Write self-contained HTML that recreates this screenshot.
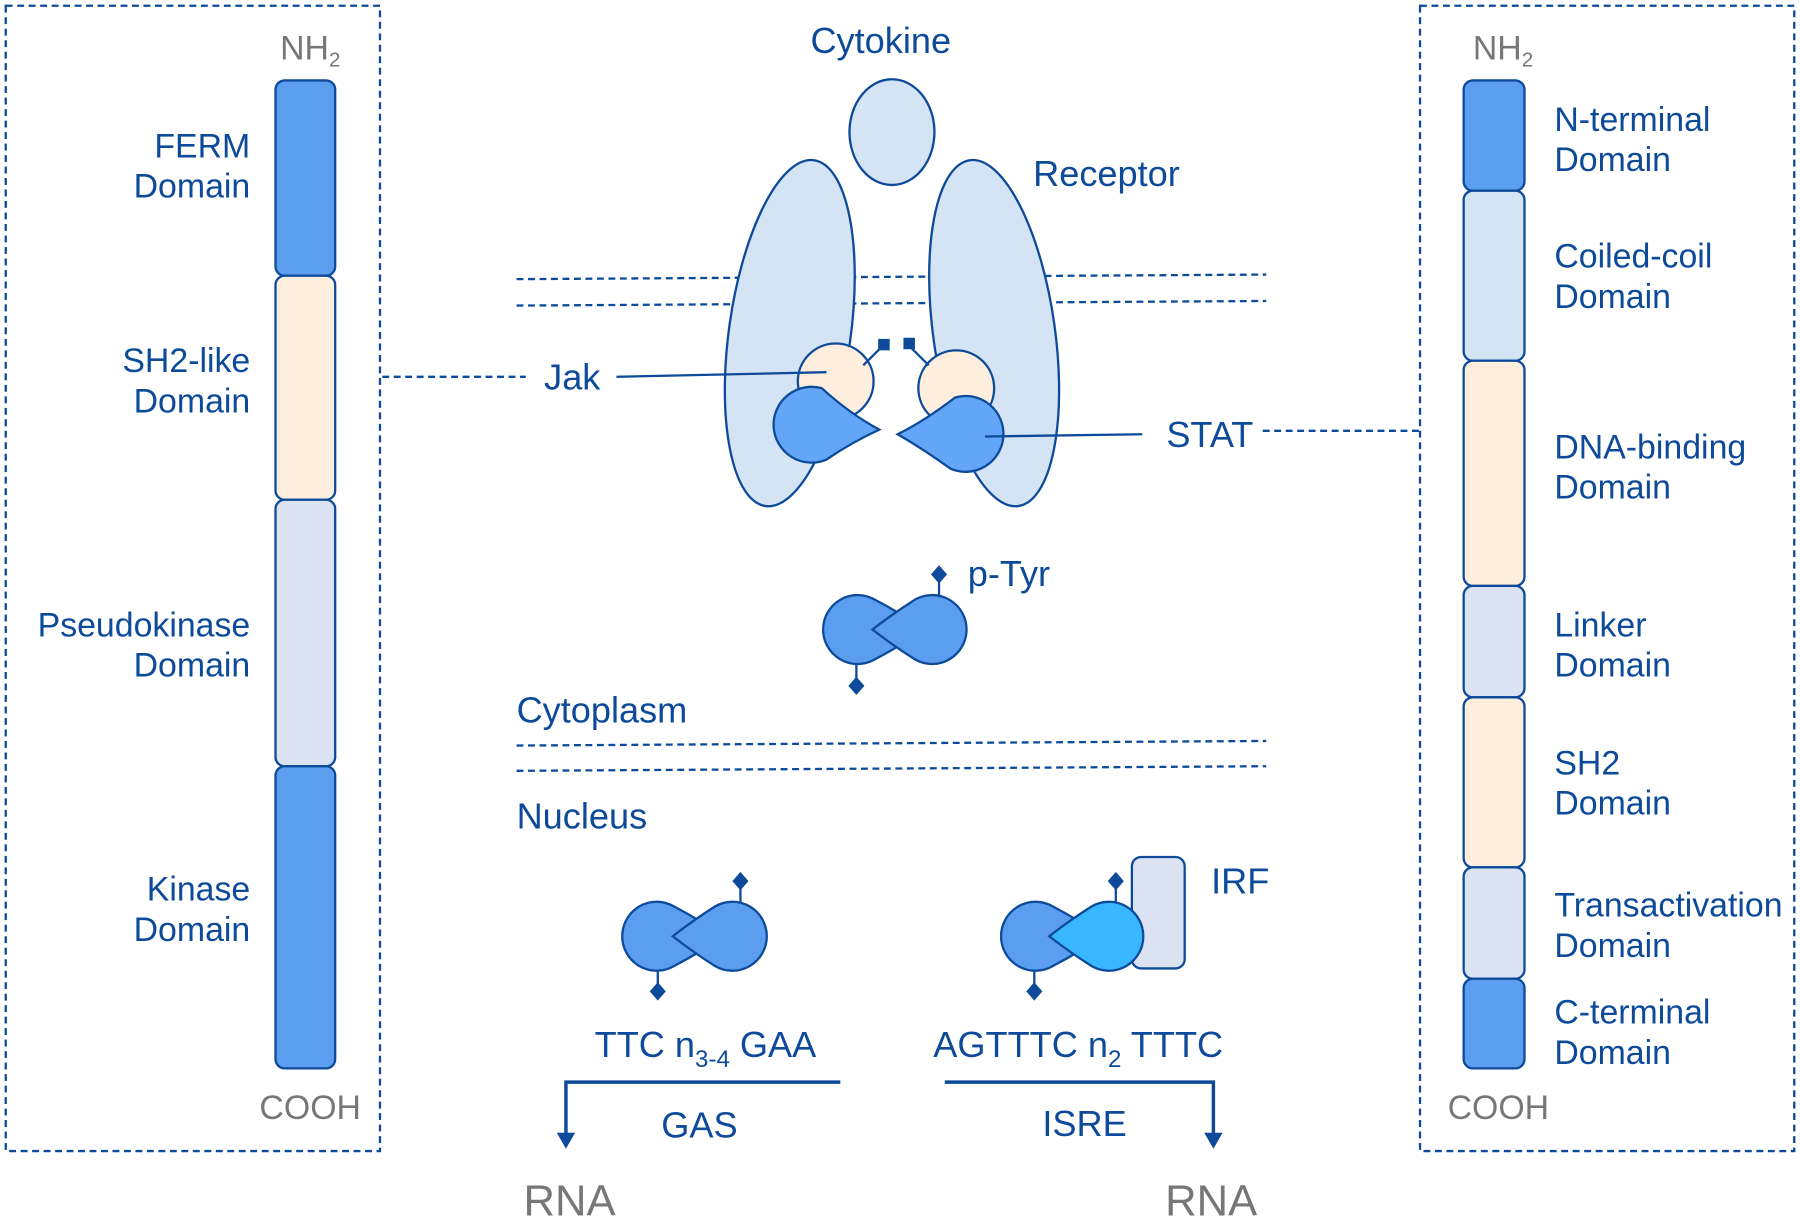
<!DOCTYPE html>
<html><head><style>html,body{margin:0;padding:0;background:#fff}svg{display:block}</style></head><body>
<svg width="1800" height="1220" viewBox="0 0 1568 1062" preserveAspectRatio="none" xmlns="http://www.w3.org/2000/svg" font-family="Liberation Sans, sans-serif">
<g fill="none" stroke="#0d4a9a" stroke-width="2" stroke-dasharray="6,4">
<rect x="5" y="5" width="326" height="997"/>
<rect x="1237" y="5" width="326" height="997"/>
<line x1="450" y1="243" x2="1103" y2="239"/>
<line x1="450" y1="266" x2="1103" y2="262"/>
<line x1="450" y1="649" x2="1103" y2="645"/>
<line x1="450" y1="671" x2="1103" y2="667"/>
<line x1="333" y1="328" x2="458" y2="328"/>
<line x1="1100" y1="375" x2="1237" y2="375"/>
</g>
<g stroke="#0d4a9a" stroke-width="2">
<rect x="240" y="70" width="52" height="170" rx="8" fill="#5b9ef0"/>
<rect x="240" y="240" width="52" height="195" rx="8" fill="#fdeedd"/>
<rect x="240" y="435" width="52" height="232" rx="8" fill="#dbe3f3"/>
<rect x="240" y="667" width="52" height="263" rx="8" fill="#5b9ef0"/>
<rect x="1275" y="70" width="53" height="96" rx="8" fill="#5b9ef0"/>
<rect x="1275" y="166" width="53" height="148" rx="8" fill="#d4e4f5"/>
<rect x="1275" y="314" width="53" height="196" rx="8" fill="#fdeedd"/>
<rect x="1275" y="510" width="53" height="97" rx="8" fill="#dbe3f3"/>
<rect x="1275" y="607" width="53" height="148" rx="8" fill="#fdeedd"/>
<rect x="1275" y="755" width="53" height="97" rx="8" fill="#dbe3f3"/>
<rect x="1275" y="852" width="53" height="78" rx="8" fill="#5b9ef0"/>
<ellipse cx="777" cy="115" rx="37" ry="46" fill="#d4e4f5"/>
<ellipse cx="688" cy="290" rx="53" ry="152" transform="rotate(8 688 290)" fill="#d4e4f5"/>
<ellipse cx="866" cy="290" rx="53" ry="152" transform="rotate(-8 866 290)" fill="#d4e4f5"/>
<circle cx="728" cy="332" r="33" fill="#fdeedd"/>
<circle cx="833" cy="338" r="33" fill="#fdeedd"/>
<line x1="752" y1="318" x2="769" y2="301"/>
<line x1="809" y1="318" x2="792" y2="301"/>
<path d="M716,338 A33,33 0 1 0 720,400 Q742,385 766,374 Q740,360 716,338Z" fill="#63a6f8"/>
<path d="M832,346 A33,33 0 1 1 828,408 Q806,392 782,378 Q806,366 832,346Z" fill="#63a6f8"/>
<line x1="818" y1="500" x2="818" y2="520"/><line x1="746" y1="577" x2="746" y2="597"/>
<path d="M762,522 A30,30 0 1 0 762,574 Q785,562 805,548 Q785,534 762,522Z" fill="#5b9ef0"/>
<path d="M797,522 A30,30 0 1 1 797,574 Q778,562 760,548 Q778,534 797,522Z" fill="#5b9ef0"/>
<line x1="645" y1="767" x2="645" y2="787"/><line x1="573" y1="843" x2="573" y2="862"/>
<path d="M587,789 A30,30 0 1 0 587,841 Q610,829 630,815 Q610,801 587,789Z" fill="#5b9ef0"/>
<path d="M623,789 A30,30 0 1 1 623,841 Q604,829 586,815 Q604,801 623,789Z" fill="#5b9ef0"/>
<rect x="986" y="746" width="46" height="97" rx="8" fill="#dbe3f3"/>
<line x1="972" y1="767" x2="972" y2="787"/><line x1="901" y1="843" x2="901" y2="862"/>
<path d="M917,789 A30,30 0 1 0 917,841 Q940,829 960,815 Q940,801 917,789Z" fill="#5b9ef0"/>
<path d="M951,789 A30,30 0 1 1 951,841 Q932,829 914,815 Q932,801 951,789Z" fill="#38b6ff"/>
<line x1="537" y1="328" x2="720" y2="324"/>
<line x1="858" y1="380" x2="995" y2="378"/>
<polyline points="732,942 493,942 493,990" fill="none" stroke-width="3"/>
<polyline points="823,942 1057,942 1057,990" fill="none" stroke-width="3"/>
</g>
<g fill="#0d4a9a">
<rect x="765" y="295" width="10" height="10"/><rect x="787" y="294" width="10" height="10"/>
<path d="M818,492 l7,8 l-7,8 l-7,-8z M746,589 l7,8 l-7,8 l-7,-8z M645,759 l7,8 l-7,8 l-7,-8z M573,855 l7,8 l-7,8 l-7,-8z M972,759 l7,8 l-7,8 l-7,-8z M901,855 l7,8 l-7,8 l-7,-8z"/>
<path d="M485,986 h16 l-8,14z M1049,986 h16 l-8,14z"/>
</g>
<g fill="#0d4a9a" font-size="31.5">
<text x="706" y="46">Cytokine</text>
<text x="900" y="162">Receptor</text>
<text x="474" y="339">Jak</text>
<text x="1016" y="389">STAT</text>
<text x="843" y="510">p-Tyr</text>
<text x="450" y="629">Cytoplasm</text>
<text x="450" y="721">Nucleus</text>
<text x="1055" y="778">IRF</text>
<text x="518" y="920">TTC n<tspan font-size="21" dy="9">3-4</tspan><tspan dy="-9"> GAA</tspan></text>
<text x="813" y="920">AGTTTC n<tspan font-size="21" dy="9">2</tspan><tspan dy="-9"> TTTC</tspan></text>
<text x="576" y="990">GAS</text>
<text x="908" y="989">ISRE</text>
</g>
<g fill="#0d4a9a" font-size="29.5">
<g text-anchor="end">
<text x="218" y="137">FERM</text><text x="218" y="172">Domain</text>
<text x="218" y="324">SH2-like</text><text x="218" y="359">Domain</text>
<text x="218" y="554">Pseudokinase</text><text x="218" y="589">Domain</text>
<text x="218" y="784">Kinase</text><text x="218" y="819">Domain</text>
</g>
<text x="1354" y="114">N-terminal</text><text x="1354" y="149">Domain</text>
<text x="1354" y="233">Coiled-coil</text><text x="1354" y="268">Domain</text>
<text x="1354" y="399">DNA-binding</text><text x="1354" y="434">Domain</text>
<text x="1354" y="554">Linker</text><text x="1354" y="589">Domain</text>
<text x="1354" y="674">SH2</text><text x="1354" y="709">Domain</text>
<text x="1354" y="798">Transactivation</text><text x="1354" y="833">Domain</text>
<text x="1354" y="891">C-terminal</text><text x="1354" y="926">Domain</text>
</g>
<g fill="#777" font-size="29.5">
<text x="244" y="52">NH<tspan font-size="18" dy="6">2</tspan></text>
<text x="1283" y="52">NH<tspan font-size="18" dy="6">2</tspan></text>
<text x="226" y="974">COOH</text>
<text x="1261" y="974">COOH</text>
<text x="456" y="1058" font-size="38">RNA</text>
<text x="1015" y="1058" font-size="38">RNA</text>
</g>
</svg>
</body></html>
